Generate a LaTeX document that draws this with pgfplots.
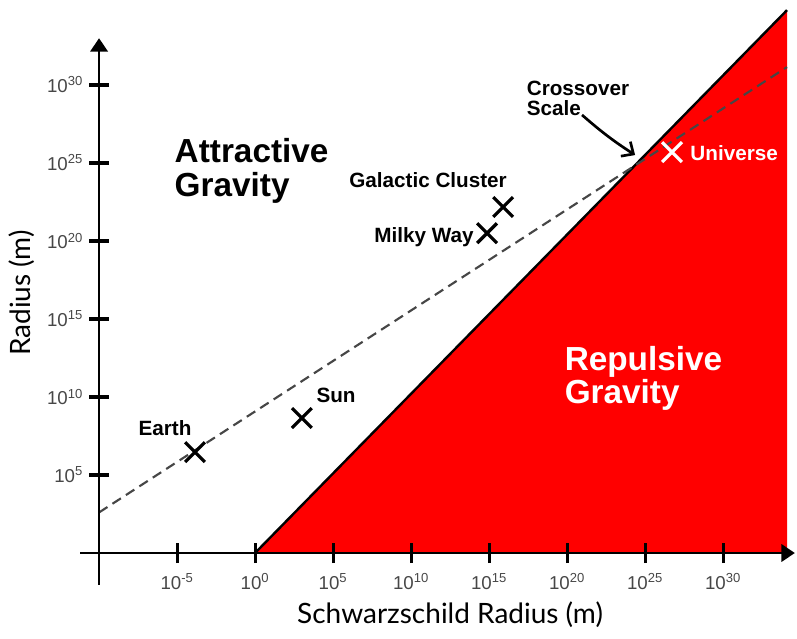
\documentclass[border=0pt]{standalone}
\usepackage{fontspec}
\setmainfont{Liberation Sans}
\newfontfamily\latofont{Lato}
\usepackage{pgfplots}
\pgfplotsset{compat=1.18}
\usetikzlibrary{arrows.meta}
\definecolor{repred}{RGB}{255,0,0}
\definecolor{dashgray}{RGB}{70,70,70}

\begin{document}
\begin{tikzpicture}
\begin{axis}[
  x=11.7pt, y=11.7pt,
  axis lines=middle,
  axis on top=true,
  xmin=-1.2, xmax=44.6, ymin=-2.05, ymax=33.0,
  clip=false,
  axis line style={line width=1.8pt, -{Triangle[length=10pt,width=13pt]}},
  xtick={5,10,15,20,25,30,35,40},
  xticklabels={10\textsuperscript{-5},10\textsuperscript{0},10\textsuperscript{5},10\textsuperscript{10},10\textsuperscript{15},10\textsuperscript{20},10\textsuperscript{25},10\textsuperscript{30}},
  ytick={5,10,15,20,25,30},
  yticklabels={10\textsuperscript{5},10\textsuperscript{10},10\textsuperscript{15},10\textsuperscript{20},10\textsuperscript{25},10\textsuperscript{30}},
  tick align=center,
  major tick length=15pt,
  tick style={draw=black, line width=2.3pt},
  ticklabel style={font=\fontsize{14}{16}\selectfont, text=black!72},
  xticklabel style={yshift=-4pt},
  yticklabel style={xshift=-1pt},
]
% bounding box
\path (axis cs:-6.35,-5.51) rectangle (axis cs:44.74,35.45);

% repulsive region
\addplot[fill=repred, draw=none] coordinates {(10,0) (44.1,34.8) (44.1,0)} -- cycle;
\addplot[black, line width=1.8pt] coordinates {(10,0) (44.1,34.8)};
% dashed line
\addplot[dashgray, line width=1.6pt, dash pattern=on 7.5pt off 4.5pt] coordinates {(0,2.6) (44.1,31.15)};

% objects
\addplot[only marks, mark=x, mark size=10.5pt, mark options={line width=2.4pt, black}] coordinates {
  (6.15,6.47) (13.0,8.65) (24.87,20.5) (25.9,22.18)};
\addplot[only marks, mark=x, mark size=10.5pt, mark options={line width=2.4pt, white}] coordinates {
  (36.73,25.7)};

% labels
\node[font=\fontsize{25}{25}\selectfont\bfseries, align=left, anchor=west] at (axis cs:4.55,24.5) {Attractive\\Gravity};
\node[font=\fontsize{25}{25}\selectfont\bfseries, align=left, anchor=west, text=white] at (axis cs:29.55,11.2) {Repulsive\\Gravity};

\node[font=\fontsize{15.5}{15}\selectfont\bfseries] at (axis cs:4.23,8.01) {Earth};
\node[font=\fontsize{15.5}{15}\selectfont\bfseries] at (axis cs:15.19,10.13) {Sun};
\node[font=\fontsize{15.5}{15}\selectfont\bfseries] at (axis cs:20.83,20.26) {Milky Way};
\node[font=\fontsize{15.5}{15}\selectfont\bfseries] at (axis cs:21.09,23.91) {Galactic Cluster};
\node[font=\fontsize{15.5}{15}\selectfont\bfseries, text=white] at (axis cs:40.71,25.64) {Universe};
\node[font=\fontsize{15.5}{15}\selectfont\bfseries, align=left, anchor=west] at (axis cs:27.12,29.17) {Crossover\\Scale};

\draw[line width=2pt, -{Straight Barb[length=7pt,width=13pt]}] (axis cs:30.96,28.08) to[bend right=4] (axis cs:34.36,25.51);

% axis labels
\node[font=\latofont\fontsize{21}{25}\selectfont] at (axis cs:22.5,-3.97) {Schwarzschild Radius (m)};
\node[font=\latofont\fontsize{21}{25}\selectfont, rotate=90] at (axis cs:-4.94,16.67) {Radius (m)};
\end{axis}
\end{tikzpicture}
\end{document}
